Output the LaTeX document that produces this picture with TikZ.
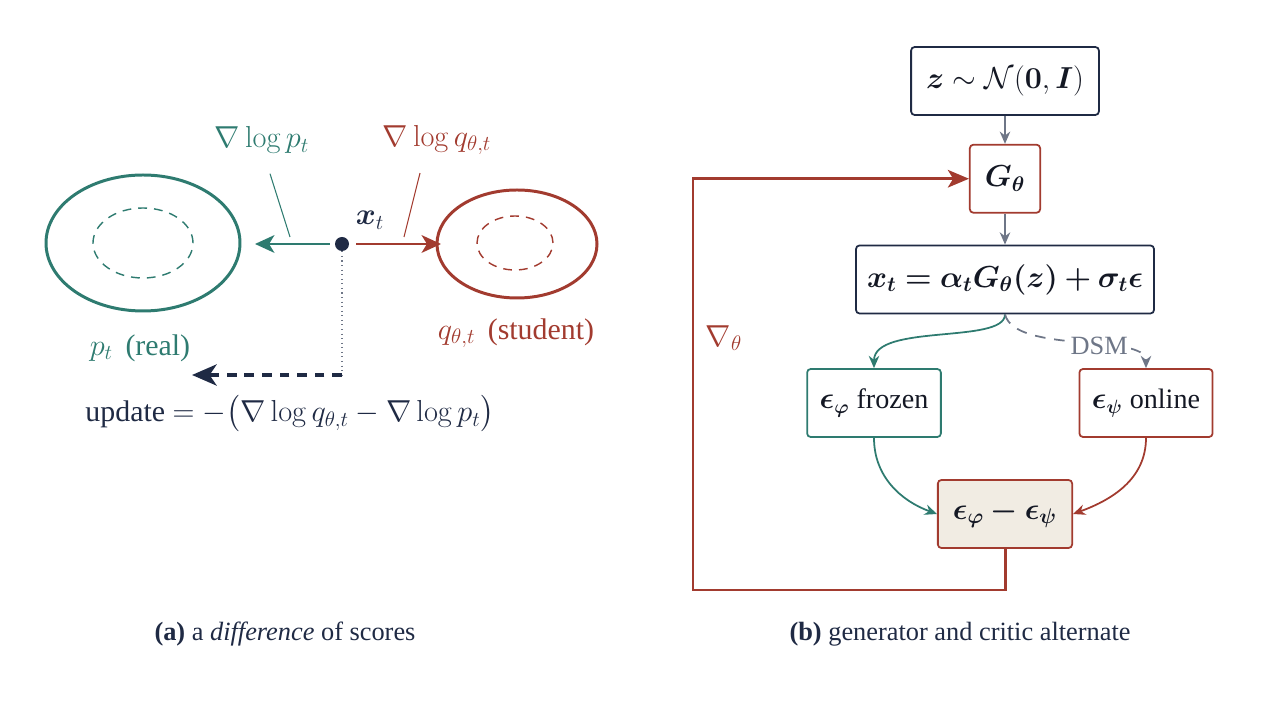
\documentclass[tikz,border=0pt]{standalone}
\usepackage{amsmath}
\usepackage{bm}
\usepackage[no-math]{fontspec}
\setmainfont{Liberation Serif}
\usetikzlibrary{arrows.meta,positioning}
\definecolor{tealc}{HTML}{2E7B70}
\definecolor{redc}{HTML}{A23B2F}
\definecolor{navyc}{HTML}{1F2A44}
\definecolor{inkc}{HTML}{141824}
\definecolor{grayc}{HTML}{6E7687}
\definecolor{beigec}{HTML}{F1ECE3}

\begin{document}
\begin{tikzpicture}[x=0.02cm,y=0.02cm,
    font=\fontsize{15}{18}\selectfont, text=navyc,
    lbl/.style={font=\fontsize{17}{20}\selectfont},
    box/.style={draw, rounded corners=2pt, line width=1pt, minimum height=1.36cm, inner xsep=0.3cm, fill=white, text=inkc},
    big/.style={font=\fontsize{17}{20}\selectfont},
    mid/.style={font=\fontsize{16}{19}\selectfont, inner xsep=0.25cm},
    flow/.style={-{Stealth[length=7pt,width=6pt]}, line width=1pt},
    score/.style={-{Stealth[length=11pt,width=10pt,inset=3pt]}, line width=1.7pt},
    lead/.style={line width=0.6pt},
    blob/.style={line width=1.7pt},
    core/.style={line width=0.8pt, dash pattern=on 5pt off 4pt}
    ]
    \useasboundingbox (0,0) rectangle (1262,710);

    % (a) scores pulling x_t apart
    \draw[blob, tealc] (143,467) ellipse [x radius=97, y radius=68];
    \draw[core, tealc] (143,467) ellipse [x radius=50, y radius=35];
    \draw[blob, redc] (517,466) ellipse [x radius=80, y radius=54];
    \draw[core, redc] (515,467) ellipse [x radius=38, y radius=27];

    \node[circle, fill=navyc, inner sep=0pt, minimum size=0.28cm] (xt) at (342,466) {};
    \node[lbl] (xtl) at (370,490) {$\bm{x}_t$};
    \coordinate (pend) at (255,466);
    \coordinate (qend) at (441,466);
    \draw[score, tealc] (xt.west) ++(-5,0) coordinate (pst) -- (pend);
    \draw[score, redc] (xt.east) ++(7,0) coordinate (qst) -- (qend);

    \node[lbl, text=tealc] (gp) at (262,570) {$\nabla\log p_t$};
    \node[lbl, text=redc] (gq) at (437,570) {$\nabla\log q_{\theta,t}$};
    \coordinate (gpa) at (290,473);
    \coordinate (gqa) at (404,473);
    \draw[lead, tealc] (gp.south) ++(8,-14) -- (gpa);
    \draw[lead, redc] (gq.south) ++(-17,-12) -- (gqa);

    \node[lbl, text=tealc] (pl) at (140,362) {$p_t$ \,(real)};
    \node[lbl, text=redc] (ql) at (516,377) {$q_{\theta,t}$ \,(student)};

    \coordinate (turn) at (342,335);
    \coordinate (uend) at (192,335);
    \draw[grayc, line width=0.6pt, dotted] (xt.south) -- (turn);
    \draw[navyc, line width=2.3pt, dash pattern=on 5.5pt off 4.5pt, -{Stealth[length=14pt,width=12pt,inset=4pt]}] (turn) -- (uend);
    \node[lbl] (upd) at (290,296) {update $=-\bigl(\nabla\log q_{\theta,t}-\nabla\log p_t\bigr)$};

    \node (capa) at (285,76) {\textbf{(a)} a \textit{difference} of scores};

    % (b) generator / critic loop
    \node[box, big, draw=navyc] (z) at (1005,629) {$\bm{z}\sim\mathcal{N}(\mathbf{0},\bm{I})$};
    \node[box, big, draw=redc, below=0.56cm of z] (G) {$\bm{G_\theta}$};
    \node[box, big, draw=navyc, below=0.62cm of G, inner xsep=0.22cm] (x) {$\bm{x_t=\alpha_t G_\theta(z)+\sigma_t\epsilon}$};
    \node[box, mid, draw=tealc] (fz) at (874,307) {$\bm{\epsilon_\varphi}$ frozen};
    \node[box, mid, draw=redc] (on) at (1146,307) {$\bm{\epsilon_\psi}$ online};
    \node[box, big, draw=redc, fill=beigec] (df) at (1005,196) {$\bm{\epsilon_\varphi-\epsilon_\psi}$};

    \draw[flow, grayc] (z) -- (G);
    \draw[flow, grayc] (G) -- (x);
    \draw[flow, tealc] (x.south) .. controls +(0,-30) and +(0,45) .. (fz.north);
    \draw[flow, grayc, dash pattern=on 6pt off 5pt] (x.south) .. controls +(10,-40) and +(0,35) .. node[pos=0.6, fill=white, inner sep=2pt, text=grayc] (dsm) {DSM} (on.north);
    \draw[flow, tealc] (fz.south) to[out=-90, in=160] (df.west);
    \draw[flow, redc] (on.south) to[out=-90, in=20] (df.east);

    \coordinate (lo) at (693,120);
    \draw[redc, line width=1.7pt, -{Stealth[length=12pt,width=10pt,inset=3pt]}] (df.south) |- (lo) |- (G.west);
    \node[lbl, text=redc] (gth) at (724,372) {$\nabla_\theta$};

    \node (capb) at (960,76) {\textbf{(b)} generator and critic alternate};
\end{tikzpicture}
\end{document}
